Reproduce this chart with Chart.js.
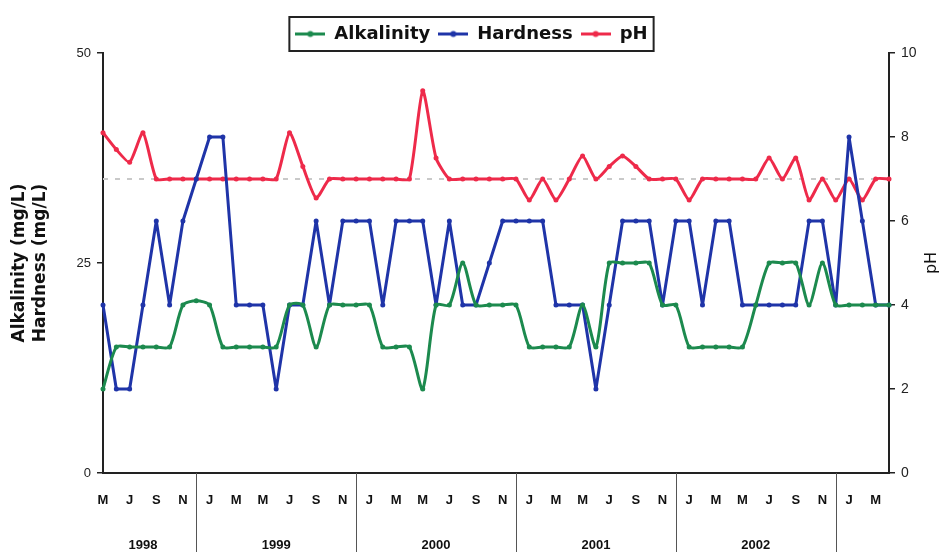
<!DOCTYPE html>
<html>
<head>
<meta charset="utf-8">
<script src="https://cdn.jsdelivr.net/npm/chart.js@4.4.0/dist/chart.umd.min.js"></script>
<style>
  html, body { margin: 0; padding: 0; background: #fff; }
  #wrap { width: 943px; height: 552px; }
</style>
</head>
<body>
<div id="wrap"><canvas id="chart"></canvas></div>
<script>
// monthly samples, May 1998 - Apr 2003
const months = [
  'May-98', 'Jun-98', 'Jul-98', 'Aug-98', 'Sep-98', 'Oct-98', 'Nov-98', 'Dec-98',
  'Jan-99', 'Feb-99', 'Mar-99', 'Apr-99', 'May-99', 'Jun-99', 'Jul-99', 'Aug-99', 'Sep-99', 'Oct-99', 'Nov-99', 'Dec-99',
  'Jan-00', 'Feb-00', 'Mar-00', 'Apr-00', 'May-00', 'Jun-00', 'Jul-00', 'Aug-00', 'Sep-00', 'Oct-00', 'Nov-00', 'Dec-00',
  'Jan-01', 'Feb-01', 'Mar-01', 'Apr-01', 'May-01', 'Jun-01', 'Jul-01', 'Aug-01', 'Sep-01', 'Oct-01', 'Nov-01', 'Dec-01',
  'Jan-02', 'Feb-02', 'Mar-02', 'Apr-02', 'May-02', 'Jun-02', 'Jul-02', 'Aug-02', 'Sep-02', 'Oct-02', 'Nov-02', 'Dec-02',
  'Jan-03', 'Feb-03', 'Mar-03', 'Apr-03'
];
const years = ['1998', '1999', '2000', '2001', '2002'];

const alkalinity = [
  10, 15, 15, 15, 15, 15, 20, 20.5,
  20, 15, 15, 15, 15, 15, 20, 20, 15, 20, 20, 20,
  20, 15, 15, 15, 10, 20, 20, 25, 20, 20, 20, 20,
  15, 15, 15, 15, 20, 15, 25, 25, 25, 25, 20, 20,
  15, 15, 15, 15, 15, 20, 25, 25, 25, 20, 25, 20,
  20, 20, 20, 20
];
const hardness = [
  20, 10, 10, 20, 30, 20, 30, 35,
  40, 40, 20, 20, 20, 10, 20, 20, 30, 20, 30, 30,
  30, 20, 30, 30, 30, 20, 30, 20, 20, 25, 30, 30,
  30, 30, 20, 20, 20, 10, 20, 30, 30, 30, 20, 30,
  30, 20, 30, 30, 20, 20, 20, 20, 20, 30, 30, 20,
  40, 30, 20, 20
];
const pH = [
  8.1, 7.7, 7.4, 8.1, 7.0, 7.0, 7.0, 7.0,
  7.0, 7.0, 7.0, 7.0, 7.0, 7.0, 8.1, 7.3, 6.55, 7.0, 7.0, 7.0,
  7.0, 7.0, 7.0, 7.0, 9.1, 7.5, 7.0, 7.0, 7.0, 7.0, 7.0, 7.0,
  6.5, 7.0, 6.5, 7.0, 7.55, 7.0, 7.3, 7.55, 7.3, 7.0, 7.0, 7.0,
  6.5, 7.0, 7.0, 7.0, 7.0, 7.0, 7.5, 7.0, 7.5, 6.5, 7.0, 6.5,
  7.0, 6.5, 7.0, 7.0
];
const phReference = 7;

const leftTicks = [0, 25, 50];
const rightTicks = [0, 2, 4, 6, 8, 10];

const GREEN = '#1c8a4e';
const BLUE = '#1f34a8';
const RED = '#ee2a4a';
const FONT = "'Liberation Sans', Arial, sans-serif";
const WIDE = "'DejaVu Sans', Verdana, sans-serif";

function legendMarker(color) {
  const c = document.createElement('canvas');
  c.width = 30; c.height = 9;
  const g = c.getContext('2d');
  g.strokeStyle = color; g.lineWidth = 3;
  g.beginPath(); g.moveTo(0, 4.5); g.lineTo(30, 4.5); g.stroke();
  g.fillStyle = color;
  g.beginPath(); g.arc(15, 4.5, 3, 0, Math.PI * 2); g.fill();
  return c;
}
const markers = [legendMarker(GREEN), legendMarker(BLUE), legendMarker(RED)];

// box round the legend
const legendBox = {
  id: 'legendBox',
  afterDraw(chart) {
    const boxes = chart.legend.legendHitBoxes;
    if (!boxes || !boxes.length) return;
    const l = Math.min(...boxes.map(b => b.left)) - 6;
    const r = Math.max(...boxes.map(b => b.left + b.width)) + 6;
    const t = Math.min(...boxes.map(b => b.top)) - 8;
    const b = Math.max(...boxes.map(b => b.top + b.height)) + 8;
    const ctx = chart.ctx;
    ctx.save();
    ctx.strokeStyle = '#222';
    ctx.lineWidth = 2;
    ctx.strokeRect(l, t, r - l, b - t);
    ctx.restore();
  }
};

// dashed pH 7 line
const refLine = {
  id: 'refLine',
  beforeDatasetsDraw(chart) {
    const y = chart.scales.y2.getPixelForValue(phReference);
    const {left, right} = chart.chartArea;
    const ctx = chart.ctx;
    ctx.save();
    ctx.strokeStyle = '#c9c9c9';
    ctx.lineWidth = 2;
    ctx.setLineDash([5, 7]);
    ctx.beginPath(); ctx.moveTo(left, y); ctx.lineTo(right, y); ctx.stroke();
    ctx.restore();
  }
};

// year labels, year dividers and the pH title
const yearAxis = {
  id: 'yearAxis',
  afterDraw(chart) {
    const x = chart.scales.x;
    const ctx = chart.ctx;
    const bottom = chart.chartArea.bottom;
    ctx.save();
    ctx.strokeStyle = '#555';
    ctx.lineWidth = 1;
    months.forEach((m, i) => {
      if (m.startsWith('Dec')) {
        const px = Math.round(x.getPixelForValue(i)) + 0.5;
        ctx.beginPath(); ctx.moveTo(px, bottom); ctx.lineTo(px, chart.height); ctx.stroke();
      }
    });
    ctx.fillStyle = '#111';
    ctx.font = 'bold 13px ' + FONT;
    ctx.textAlign = 'center';
    ctx.textBaseline = 'middle';
    years.forEach(yr => {
      const idx = months.map((m, i) => i).filter(i => months[i].endsWith(yr.slice(2)) && i % 2 === 0);
      const a = x.getPixelForValue(idx[0]);
      const b = x.getPixelForValue(idx[idx.length - 1]);
      ctx.fillText(yr, (a + b) / 2, 545);
    });
    const y2 = chart.scales.y2;
    ctx.translate(932, (y2.top + y2.bottom) / 2);
    ctx.rotate(-Math.PI / 2);
    ctx.font = '16px ' + WIDE;
    ctx.fillText('pH', 0, 0);
    ctx.restore();
  }
};

const ctx = document.getElementById('chart');

new Chart(ctx, {
  type: 'line',
  data: {
    labels: months,
    datasets: [
      {
        label: 'Alkalinity',
        data: alkalinity,
        borderColor: GREEN,
        backgroundColor: GREEN,
        borderWidth: 3,
        borderJoinStyle: 'round',
        pointRadius: 2.5,
        pointBorderWidth: 0,
        tension: 0.25,
        yAxisID: 'y'
      },
      {
        label: 'Hardness',
        data: hardness,
        borderColor: BLUE,
        backgroundColor: BLUE,
        borderWidth: 3,
        borderJoinStyle: 'round',
        pointRadius: 2.5,
        pointBorderWidth: 0,
        tension: 0,
        yAxisID: 'y'
      },
      {
        label: 'pH',
        data: pH,
        borderColor: RED,
        backgroundColor: RED,
        borderWidth: 3,
        borderJoinStyle: 'round',
        pointRadius: 2.5,
        pointBorderWidth: 0,
        tension: 0.2,
        yAxisID: 'y2'
      }
    ]
  },
  options: {
    responsive: true,
    maintainAspectRatio: false,
    animation: false,
    layout: { padding: { top: 17, left: 0, right: 0, bottom: 0 } },
    plugins: {
      tooltip: { enabled: false },
      legend: {
        position: 'top',
        labels: {
          usePointStyle: true,
          pointStyleWidth: 30,
          padding: 8,
          color: '#111',
          font: { family: WIDE, size: 18, weight: 'bold' },
          generateLabels(chart) {
            const items = Chart.defaults.plugins.legend.labels.generateLabels(chart);
            items.forEach(it => { it.pointStyle = markers[it.datasetIndex]; });
            return items;
          }
        }
      }
    },
    scales: {
      x: {
        type: 'category',
        offset: false,
        grid: { display: false, drawTicks: false },
        border: { display: true, color: '#222', width: 2 },
        ticks: {
          autoSkip: false,
          maxRotation: 0,
          padding: 20,
          color: '#111',
          font: { family: FONT, size: 13, weight: 'bold' },
          callback: (v, i) => (i % 2 === 0 && i < months.length - 1) ? months[i][0] : ''
        },
        afterFit: s => { s.height = 79; }
      },
      y: {
        type: 'linear',
        position: 'left',
        min: 0,
        max: 50,
        afterBuildTicks: s => { s.ticks = leftTicks.map(v => ({ value: v })); },
        grid: { drawOnChartArea: false, tickLength: 6, color: '#222', lineWidth: 1.5 },
        border: { display: true, color: '#222', width: 2 },
        ticks: { padding: 6, color: '#222', font: { family: FONT, size: 13 } },
        title: {
          display: true,
          text: ['Alkalinity (mg/L)', 'Hardness (mg/L)'],
          color: '#111',
          font: { family: WIDE, size: 17, weight: 'bold', lineHeight: 1.24 },
          padding: { top: 9, bottom: 0 }
        },
        afterFit: s => { s.width = 103; }
      },
      y2: {
        type: 'linear',
        position: 'right',
        min: 0,
        max: 10,
        afterBuildTicks: s => { s.ticks = rightTicks.map(v => ({ value: v })); },
        grid: { drawOnChartArea: false, tickLength: 6, color: '#222', lineWidth: 1.5 },
        border: { display: true, color: '#222', width: 2 },
        ticks: { padding: 6, color: '#222', font: { family: FONT, size: 14 } },
        afterFit: s => { s.width = 54; }
      }
    }
  },
  plugins: [legendBox, refLine, yearAxis]
});
</script>
</body>
</html>
